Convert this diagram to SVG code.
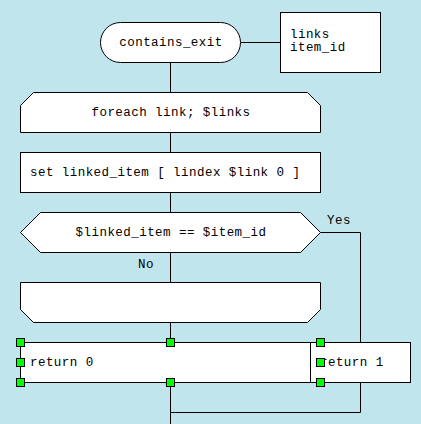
<svg xmlns="http://www.w3.org/2000/svg" width="421" height="424" viewBox="0 0 421 424">
<style>
.s{fill:#fff;stroke:#000;stroke-width:1}
.c{fill:none;stroke:#000;stroke-width:1}
.t{font-family:"Liberation Mono","DejaVu Sans Mono",monospace;font-size:12.5px;letter-spacing:0.45px;fill:#000}
.m{text-anchor:middle}
.h{fill:#00ff00;stroke:#000;stroke-width:1}
</style>
<rect x="0" y="0" width="421" height="424" fill="#C1E5ED"/>
<g id="connectors">
<path class="c" d="M240.5,42.5H280.5"/>
<path class="c" d="M170.5,62.5V92.5"/>
<path class="c" d="M170.5,132.5V152.5"/>
<path class="c" d="M170.5,192.5V212.5"/>
<path class="c" d="M320.5,232.5H360.5V342.5"/>
<path class="c" d="M170.5,252.5V282.5"/>
<path class="c" d="M170.5,322.5V342.5"/>
<path class="c" d="M170.5,382.5V424"/>
<path class="c" d="M360.5,382.5V412.5H170.5"/>
<text class="t" x="327" y="224">Yes</text>
<text class="t" x="138" y="268">No</text>
</g>
<g id="start">
<rect class="s" x="100.5" y="22.5" width="140" height="40" rx="20" ry="20"/>
<text class="t m" x="171" y="46">contains_exit</text>
</g>
<g id="params">
<rect class="s" x="280.5" y="12.5" width="100" height="60"/>
<text class="t" x="290" y="38">links</text>
<text class="t" x="290" y="51">item_id</text>
</g>
<g id="loop_start">
<path class="s" d="M33.5,92.5H307.5L320.5,105.5V132.5H20.5V105.5Z"/>
<text class="t m" x="171" y="116">foreach link; $links</text>
</g>
<g id="action">
<rect class="s" x="20.5" y="152.5" width="300" height="40"/>
<text class="t" x="30" y="176">set linked_item [ lindex $link 0 ]</text>
</g>
<g id="decision">
<path class="s" d="M20.5,232.5L40.5,212.5H300.5L320.5,232.5L300.5,252.5H40.5Z"/>
<text class="t m" x="171" y="236">$linked_item == $item_id</text>
</g>
<g id="loop_end">
<path class="s" d="M20.5,282.5H320.5V309.5L307.5,322.5H33.5L20.5,309.5Z"/>
</g>
<g id="return0">
<rect class="s" x="20.5" y="342.5" width="290" height="40"/>
<text class="t" x="30" y="366">return 0</text>
</g>
<g id="return1">
<rect class="s" x="310.5" y="342.5" width="100" height="40"/>
<text class="t" x="320" y="366">return 1</text>
</g>
<g id="handles">
<rect class="h" x="16.5" y="338.5" width="8" height="8"/>
<rect class="h" x="166.5" y="338.5" width="8" height="8"/>
<rect class="h" x="16.5" y="358.5" width="8" height="8"/>
<rect class="h" x="16.5" y="378.5" width="8" height="8"/>
<rect class="h" x="166.5" y="378.5" width="8" height="8"/>
<rect class="h" x="316.5" y="338.5" width="8" height="8"/>
<rect class="h" x="316.5" y="358.5" width="8" height="8"/>
<rect class="h" x="316.5" y="378.5" width="8" height="8"/>
</g>
</svg>
